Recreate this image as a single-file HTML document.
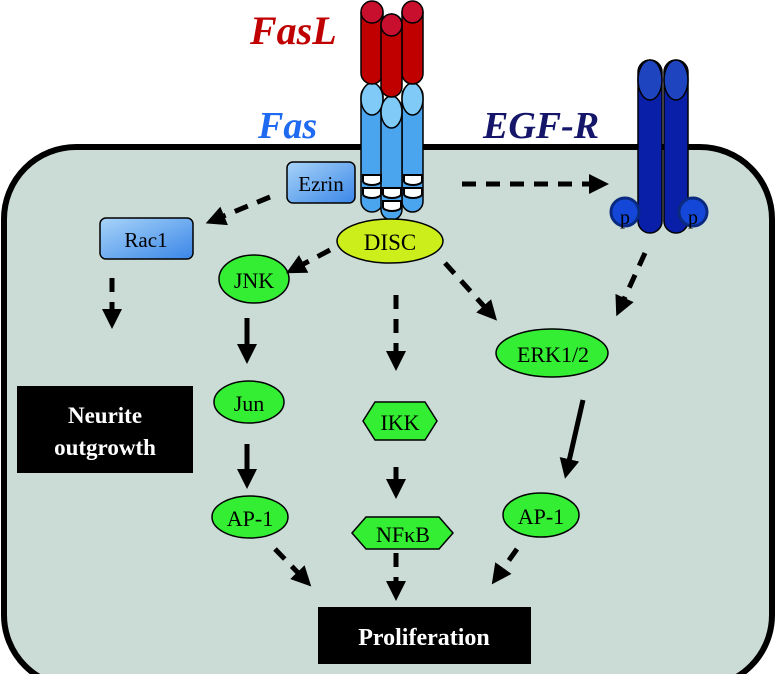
<!DOCTYPE html>
<html><head><meta charset="utf-8"><style>
html,body{margin:0;padding:0;background:#fff;}
svg{display:block;}
text{font-family:"Liberation Serif",serif;}
</style></head><body>
<svg width="778" height="674" viewBox="0 0 778 674" xmlns="http://www.w3.org/2000/svg">
<defs>
<marker id="ah" markerWidth="4" markerHeight="4" refX="2.2" refY="2" orient="auto" markerUnits="strokeWidth">
<path d="M0,0 L4,2 L0,4 z" fill="#000"/></marker>
<linearGradient id="bl" x1="0" y1="0" x2="1" y2="1"><stop offset="0" stop-color="#a8d4f8"/><stop offset="1" stop-color="#3a86e8"/></linearGradient>
</defs>
<!-- cell -->
<rect x="4" y="147" width="768" height="540" rx="72" fill="#cbdbd6" stroke="#000" stroke-width="6"/>
<!-- labels -->
<text x="250" y="44" font-size="40" font-weight="bold" font-style="italic" fill="#c00000">FasL</text>
<text x="258" y="138" font-size="38" font-weight="bold" font-style="italic" fill="#1e6af0">Fas</text>
<text x="483" y="138" font-size="38" font-weight="bold" font-style="italic" fill="#15166a">EGF-R</text>
<!-- Fas receptor: 3 cylinders -->
<g stroke="#000" stroke-width="1.5">
<rect x="361" y="85" width="22" height="127" rx="11" fill="#4aa4ee"/>
<rect x="402" y="85" width="21" height="127" rx="10.5" fill="#4aa4ee"/>
<rect x="381" y="98" width="21" height="122" rx="10.5" fill="#4aa4ee"/>
<ellipse cx="372" cy="99" rx="11" ry="16" fill="#7fcaf6"/>
<ellipse cx="412.5" cy="99" rx="10.5" ry="16" fill="#7fcaf6"/>
<ellipse cx="391.5" cy="112" rx="10.5" ry="16" fill="#7fcaf6"/>
<rect x="361" y="2" width="22" height="82" rx="11" fill="#c00000"/>
<rect x="402" y="2" width="21" height="82" rx="10.5" fill="#c00000"/>
<ellipse cx="372" cy="12" rx="11" ry="11" fill="#c8102e"/>
<ellipse cx="412.5" cy="12" rx="10.5" ry="11" fill="#c8102e"/>
<rect x="381" y="14" width="21" height="83" rx="10.5" fill="#c00000"/>
<ellipse cx="391.5" cy="25" rx="10.5" ry="11" fill="#c8102e"/>
</g>
<g fill="#fff" stroke="#000" stroke-width="2">
<path d="M363,175 h18 v6 a9,4 0 0 1 -18,0z"/><path d="M363,188 h18 v6 a9,4 0 0 1 -18,0z"/>
<path d="M404,175 h18 v6 a9,4 0 0 1 -18,0z"/><path d="M404,188 h18 v6 a9,4 0 0 1 -18,0z"/>
<path d="M383,188 h18 v6 a9,4 0 0 1 -18,0z"/><path d="M383,201 h18 v6 a9,4 0 0 1 -18,0z"/>
</g>
<!-- EGF-R -->
<g stroke="#000" stroke-width="1.5">
<rect x="638" y="60" width="24" height="173" rx="12" fill="#0a1fa8"/>
<rect x="664" y="60" width="24" height="173" rx="12" fill="#0a1fa8"/>
<ellipse cx="650" cy="80" rx="12" ry="20" fill="#1e44c0"/>
<ellipse cx="676" cy="80" rx="12" ry="20" fill="#1e44c0"/>
</g>
<circle cx="625" cy="212" r="14" fill="#1447d8" stroke="#0a2a80" stroke-width="3"/>
<circle cx="693" cy="212" r="14" fill="#1447d8" stroke="#0a2a80" stroke-width="3"/>
<text x="625" y="224" font-size="20" text-anchor="middle">p</text>
<text x="693" y="224" font-size="20" text-anchor="middle">p</text>
<!-- boxes -->
<rect x="287" y="162" width="68" height="41" rx="6" fill="url(#bl)" stroke="#000" stroke-width="1.5"/>
<text x="321" y="191" font-size="21" text-anchor="middle">Ezrin</text>
<rect x="100" y="218" width="93" height="41" rx="6" fill="url(#bl)" stroke="#000" stroke-width="1.5"/>
<text x="146" y="247" font-size="21" text-anchor="middle">Rac1</text>
<rect x="17" y="386" width="176" height="87" fill="#000"/>
<text x="105" y="423" font-size="23" font-weight="bold" fill="#fff" text-anchor="middle">Neurite</text>
<text x="105" y="455" font-size="23" font-weight="bold" fill="#fff" text-anchor="middle">outgrowth</text>
<rect x="318" y="607" width="213" height="57" fill="#000"/>
<text x="424" y="645" font-size="24" font-weight="bold" fill="#fff" text-anchor="middle">Proliferation</text>
<!-- nodes -->
<g stroke="#000" stroke-width="1.5">
<ellipse cx="390" cy="241" rx="53" ry="22" fill="#ccee1a"/>
<ellipse cx="254" cy="279" rx="35" ry="24" fill="#33ee33"/>
<ellipse cx="249" cy="402" rx="35" ry="21" fill="#33ee33"/>
<ellipse cx="250" cy="517" rx="38" ry="21" fill="#33ee33"/>
<ellipse cx="541" cy="515" rx="38" ry="22" fill="#33ee33"/>
<ellipse cx="552" cy="353" rx="56" ry="24" fill="#33ee33"/>
<polygon points="363,421 375,402 425,402 437,421 425,440 375,440" fill="#33ee33"/>
<polygon points="352,533 366,517 439,517 453,533 439,549 366,549" fill="#33ee33"/>
</g>
<text x="390" y="250" font-size="23" text-anchor="middle">DISC</text>
<text x="254" y="288" font-size="22" text-anchor="middle">JNK</text>
<text x="249" y="411" font-size="22" text-anchor="middle">Jun</text>
<text x="250" y="526" font-size="22" text-anchor="middle">AP-1</text>
<text x="541" y="524" font-size="22" text-anchor="middle">AP-1</text>
<text x="553" y="362" font-size="22" text-anchor="middle">ERK1/2</text>
<text x="400" y="430" font-size="22" text-anchor="middle">IKK</text>
<text x="403" y="542" font-size="22" text-anchor="middle">NFκB</text>
<!-- arrows -->
<g stroke="#000" stroke-width="5" fill="none" marker-end="url(#ah)">
<g stroke-dasharray="14,10">
<line x1="462" y1="184" x2="600" y2="184"/>
<line x1="270" y1="197" x2="214" y2="220"/>
<line x1="112" y1="278" x2="112" y2="320"/>
<line x1="330" y1="250" x2="294" y2="269"/>
<line x1="396" y1="295" x2="396" y2="362"/>
<line x1="445" y1="263" x2="491" y2="314"/>
<line x1="645" y1="253" x2="620" y2="308"/>
<line x1="396" y1="553" x2="396" y2="592"/>
<line x1="275" y1="549" x2="305" y2="580"/>
<line x1="517" y1="549" x2="497" y2="577"/>
</g>
<line x1="247" y1="318" x2="247" y2="355"/>
<line x1="247" y1="444" x2="247" y2="480"/>
<line x1="396" y1="467" x2="396" y2="490"/>
<line x1="583" y1="400" x2="567" y2="470"/>
</g>
</svg>
</body></html>
